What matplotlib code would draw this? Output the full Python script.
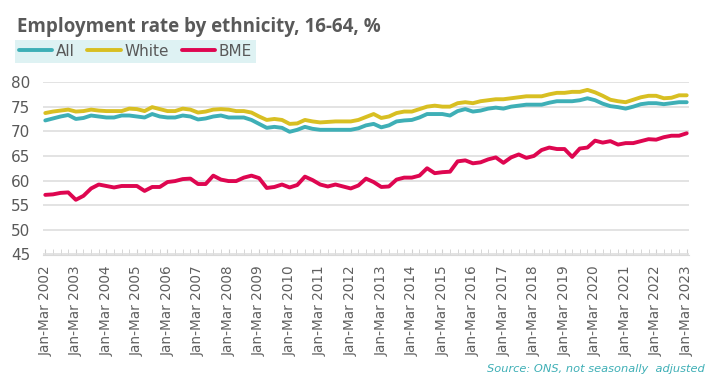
import matplotlib
matplotlib.use("Agg")
import matplotlib.pyplot as plt
import numpy as np

# quarterly employment rate (%), Jan-Mar 2002 .. Jan-Mar 2023
years = list(range(2002, 2024))
tick_labels = ["Jan-Mar %d" % y for y in years]

all_rate = [72.2, 72.6, 73.0, 73.3, 72.5, 72.7, 73.2, 73.0, 72.8, 72.8, 73.2, 73.2,
            73.0, 72.8, 73.5, 73.0, 72.8, 72.8, 73.2, 73.0, 72.4, 72.6, 73.0, 73.2,
            72.8, 72.8, 72.8, 72.3, 71.5, 70.7, 70.9, 70.7, 69.9, 70.3, 70.9, 70.5,
            70.3, 70.3, 70.3, 70.3,
            70.3, 70.6, 71.2, 71.5, 70.8, 71.2, 72.0, 72.2, 72.3, 72.8, 73.5, 73.5,
            73.5, 73.2, 74.1, 74.5, 74.0, 74.2, 74.6, 74.8, 74.6, 75.0, 75.2, 75.4,
            75.4, 75.4, 75.8, 76.1, 76.1, 76.1, 76.3, 76.7, 76.3, 75.6, 75.1, 74.9,
            74.6, 75.0, 75.5, 75.7, 75.7, 75.5, 75.7, 75.9, 75.9]

white_rate = [73.7, 74.0, 74.2, 74.4, 74.0, 74.1, 74.4, 74.2, 74.1, 74.1, 74.1, 74.6,
              74.5, 74.1, 74.9, 74.5, 74.1, 74.1, 74.6, 74.4, 73.8, 74.0, 74.4, 74.5,
              74.4, 74.1, 74.1, 73.8, 73.0, 72.3, 72.5, 72.3, 71.5, 71.6, 72.3, 72.0,
              71.8, 71.9, 72.0, 72.0,
              72.0, 72.3, 72.9, 73.5, 72.7, 73.0, 73.7, 74.0, 74.0, 74.5, 75.0, 75.2,
              75.0, 75.0, 75.7, 75.9, 75.7, 76.1, 76.3, 76.5, 76.5, 76.7, 76.9, 77.1,
              77.1, 77.1, 77.5, 77.8, 77.8, 78.0, 78.0, 78.4, 77.9, 77.2, 76.4, 76.1,
              75.9, 76.4, 76.9, 77.2, 77.2, 76.7, 76.8, 77.3, 77.3]

bme_rate = [57.1, 57.2, 57.5, 57.6, 56.1, 56.9, 58.4, 59.2, 58.9, 58.6, 58.9, 58.9,
            58.9, 57.9, 58.7, 58.7, 59.7, 59.9, 60.3, 60.4, 59.3, 59.3, 61.0, 60.2,
            59.9, 59.9, 60.6, 61.0, 60.5, 58.5, 58.7, 59.2, 58.6, 59.1, 60.8, 60.1,
            59.2, 58.8, 59.2, 58.8,
            58.4, 59.0, 60.4, 59.7, 58.7, 58.8, 60.2, 60.6, 60.6, 61.0, 62.5, 61.5,
            61.7, 61.8, 63.9, 64.1, 63.5, 63.7, 64.3, 64.7, 63.6, 64.7, 65.3, 64.6,
            65.0, 66.2, 66.7, 66.4, 66.4, 64.8, 66.5, 66.7, 68.1, 67.7, 68.0, 67.3,
            67.6, 67.6, 68.0, 68.4, 68.3, 68.8, 69.1, 69.1, 69.6]

grey = "#595959"
c_all = "#3eafb6"
c_white = "#d8bf22"
c_bme = "#de0650"

fig = plt.figure(figsize=(7.09, 3.78), dpi=100)
ax = fig.add_axes([43 / 709, 1 - 254.5 / 378, 646 / 709, (254.5 - 82) / 378])

x = np.arange(len(all_rate))
ax.plot(x, all_rate, color=c_all, lw=2.8, label="All", solid_capstyle="round")
ax.plot(x, white_rate, color=c_white, lw=2.8, label="White", solid_capstyle="round")
ax.plot(x, bme_rate, color=c_bme, lw=2.8, label="BME", solid_capstyle="round")

ax.set_xlim(-0.3, len(all_rate) - 0.7)
ax.set_ylim(45, 80)
ax.set_yticks(range(45, 81, 5))
ax.yaxis.grid(True, color="#dedede", lw=1.2)
ax.set_axisbelow(True)
for s in ["top", "right", "left"]:
    ax.spines[s].set_visible(False)
ax.spines["bottom"].set_color("#d9d9d9")
ax.tick_params(axis="y", length=0, labelsize=11, labelcolor=grey, pad=9)

ax.set_xticks(x[::4])
ax.set_xticklabels(tick_labels, rotation=90, fontsize=9.8, color="#606060")
ax.set_xticks(x, minor=True)
ax.tick_params(axis="x", which="both", direction="in", length=4, color="#d0d0d0", pad=8)

fig.text(17 / 709, 1 - 27 / 378, "Employment rate by ethnicity, 16-64, %",
         fontsize=13.5, fontweight="bold", color=grey, va="center", family="Open Sans")

leg = fig.legend(loc="upper left", bbox_to_anchor=(15 / 709, 1 - 40 / 378), ncol=3,
                 fontsize=11, frameon=True, fancybox=False, handlelength=2.2,
                 handletextpad=0.25, columnspacing=0.8, borderpad=0.25,
                 borderaxespad=0)
leg.get_frame().set_facecolor("#d6eff1")
leg.get_frame().set_edgecolor("none")
for t in leg.get_texts():
    t.set_color(grey)

fig.text(705 / 709, 1 - 369 / 378, "Source: ONS, not seasonally  adjusted",
         fontsize=8.2, style="italic", color="#3eafb6", ha="right", va="center")

fig.savefig("out.png", dpi=100)
